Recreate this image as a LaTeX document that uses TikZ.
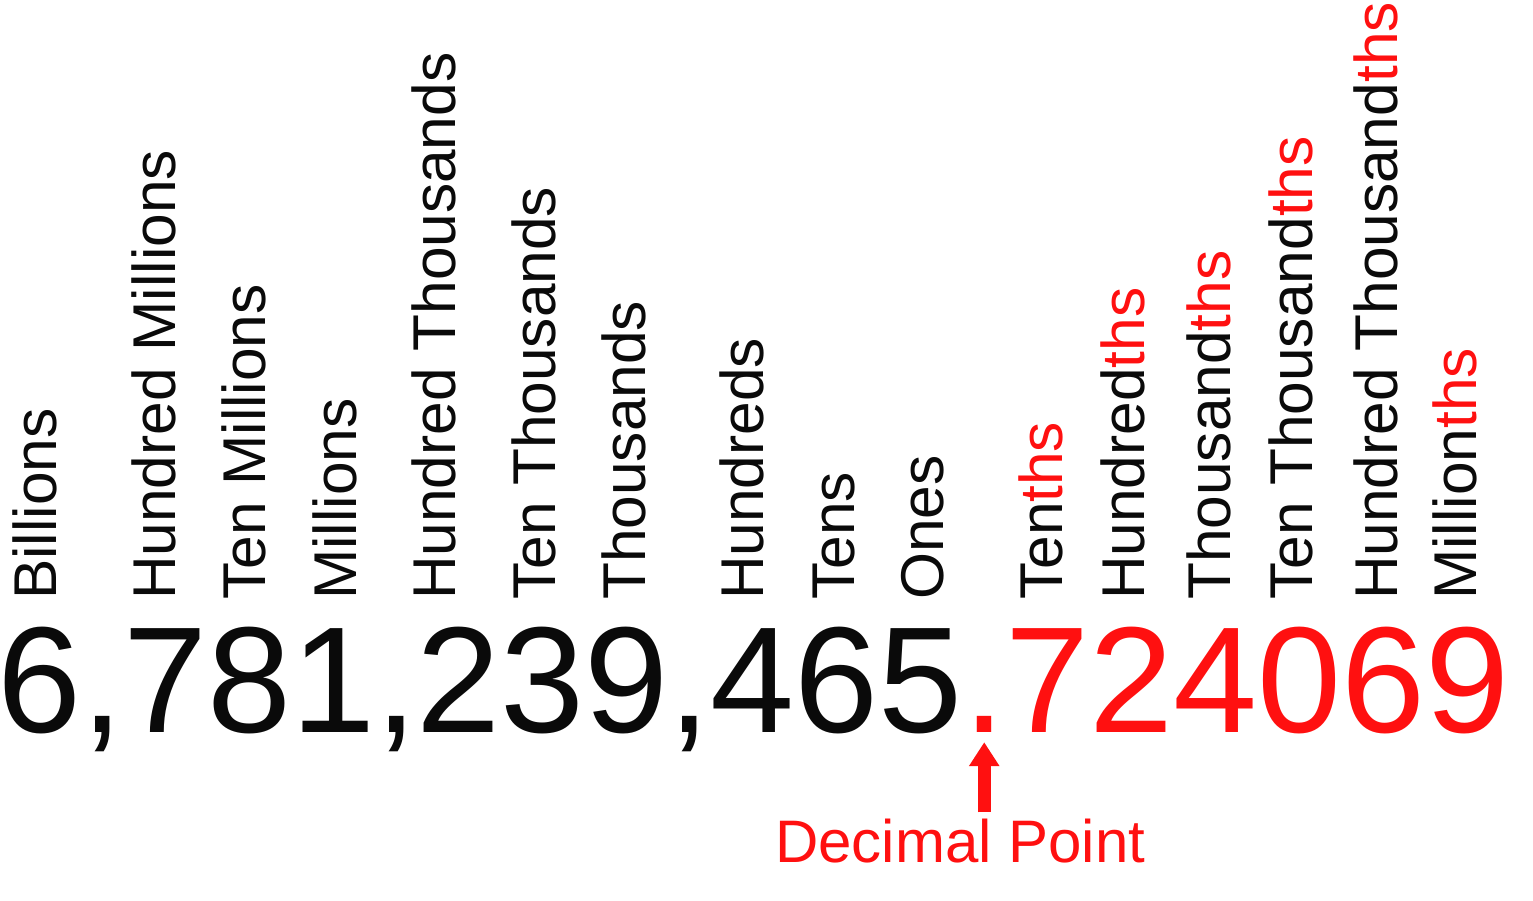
\documentclass[tikz,border=0pt]{standalone}
\usepackage{fontspec}
\setmainfont{Liberation Sans}
\usepackage{tikz}
\usetikzlibrary{positioning,arrows.meta,calc}
\definecolor{digitred}{HTML}{FF1010}
\definecolor{ink}{HTML}{0A0A0A}
\tikzset{
  place/.style={rotate=90,anchor=base west,inner sep=0pt,text=ink,font=\fontsize{60.4}{72}\selectfont},
  numtext/.style={anchor=base west,inner sep=0pt,font=\fontsize{151}{170}\selectfont},
  redlbl/.style={anchor=base west,inner sep=0pt,text=digitred,font=\fontsize{60}{72}\selectfont},
  pointer/.style={-{Triangle[length=24pt,width=29pt]},draw=digitred,line width=13pt}}

\begin{document}
\begin{tikzpicture}[x=1pt,y=-1pt]
  \useasboundingbox (0,0) rectangle (1533,901);
  % place names, read upwards
  \foreach \x/\txt [count=\i] in {56/Billions,175/Hundred Millions,265/Ten Millions,356/Millions,
      455/Hundred Thousands,555/Ten Thousands,645/Thousands,763/Hundreds,854/Tens,943/Ones,
      1062/Ten\textcolor{digitred}{ths},1144/Hundred\textcolor{digitred}{ths},
      1230/Thousand\textcolor{digitred}{ths},1312/Ten Thousand\textcolor{digitred}{ths},
      1397/Hundred Thousand\textcolor{digitred}{ths},1476/Million\textcolor{digitred}{ths}}
    {\node[place] (lab\i) at (\x,600) {\txt};}
  % the number
  \node[numtext,text=ink] (int) at (-3,732) {6,781,239,465};
  \node[numtext,text=digitred] (pt) at (int.base east) {.};
  \node[numtext,text=digitred] (frac) at (pt.base east) {724069};
  \node[redlbl] (dp) at (775,862) {Decimal Point};
  \draw[pointer] ([yshift=6pt]dp.north -| pt.south) -- ([yshift=-10pt]pt.south);
\end{tikzpicture}
\end{document}
